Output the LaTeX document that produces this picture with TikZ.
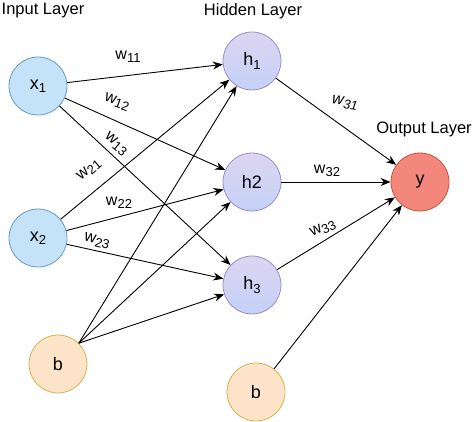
\documentclass[tikz,border=0pt]{standalone}
\usepackage{fontspec}
\setmainfont{Liberation Sans}
\usetikzlibrary{arrows.meta}
\definecolor{inFill}{HTML}{C4E3F8}
\definecolor{inDraw}{HTML}{6A9AC4}
\definecolor{hTop}{HTML}{DDD5F1}
\definecolor{hBot}{HTML}{C3D1F7}
\definecolor{hDraw}{HTML}{9A8CC8}
\definecolor{outFill}{HTML}{F4877B}
\definecolor{outDraw}{HTML}{C9503B}
\definecolor{bFill}{HTML}{FDE4C9}
\definecolor{bDraw}{HTML}{D7B24E}
\newcommand{\sbs}[1]{\raisebox{-0.35ex}{\fontsize{13}{13}\selectfont #1}}
\begin{document}
\begin{tikzpicture}[x=1pt,y=-1pt,
 neuron/.style={circle, minimum size=58pt, inner sep=0pt, line width=0.8pt, font=\fontsize{18}{18}\selectfont},
 innode/.style={neuron, fill=inFill, draw=inDraw},
 hidnode/.style={neuron, top color=hTop, bottom color=hBot, draw=hDraw},
 outnode/.style={neuron, fill=outFill, draw=outDraw},
 biasnode/.style={neuron, fill=bFill, draw=bDraw},
 title/.style={font=\fontsize{16.5}{16.5}\selectfont, inner sep=0pt},
 wlabel/.style={font=\fontsize{16}{16}\selectfont, inner sep=0pt},
 conn/.style={line width=0.9pt, -{Stealth[length=10pt,width=8pt]}},
]
\useasboundingbox (0,0) rectangle (474,422);

\node[title] (tin) at (43,11) {Input Layer};
\node[title] (thid) at (253,11) {Hidden Layer};
\node[title] (tout) at (424,129) {Output Layer};

\node[innode] (x1) at (38,86) {x\sbs{1}};
\node[innode] (x2) at (38,238) {x\sbs{2}};
\node[biasnode] (b1) at (58,364) {b};
\node[hidnode] (h1) at (252,61) {h\sbs{1}};
\node[hidnode] (h2) at (252,182) {h2};
\node[hidnode] (h3) at (252,285) {h\sbs{3}};
\node[outnode] (y) at (420,182) {y};
\node[biasnode] (b2) at (256,392) {b};

\draw[conn] (x1) -- (h1);
\draw[conn] (x1) -- (h2);
\draw[conn] (x1) -- (h3);
\draw[conn] (x2) -- (h1);
\draw[conn] (x2) -- (h2);
\draw[conn] (x2) -- (h3);
\draw[conn] (b1.45) -- (h1);
\draw[conn] (b1.45) -- (h2);
\draw[conn] (b1.45) -- (h3);
\draw[conn] (h1) -- (y);
\draw[conn] (h2) -- (y);
\draw[conn] (h3) -- (y);
\draw[conn] (b2) -- (y);

\node[wlabel] (w11) at (128,57) {w\sbs{11}};
\node[wlabel, rotate=-20] (w12) at (117,102) {w\sbs{12}};
\node[wlabel, rotate=-40] (w13) at (116,144) {w\sbs{13}};
\node[wlabel, rotate=40] (w21) at (89,170) {w\sbs{21}};
\node[wlabel] (w22) at (119,203) {w\sbs{22}};
\node[wlabel, rotate=-15] (w23) at (97,241) {w\sbs{23}};
\node[wlabel, font=\fontsize{16}{16}\selectfont\itshape, rotate=-8] (w31) at (345,103) {w\sbs{31}};
\node[wlabel] (w32) at (327,171) {w\sbs{32}};
\node[wlabel, rotate=25] (w33) at (323,229) {w\sbs{33}};
\end{tikzpicture}
\end{document}
